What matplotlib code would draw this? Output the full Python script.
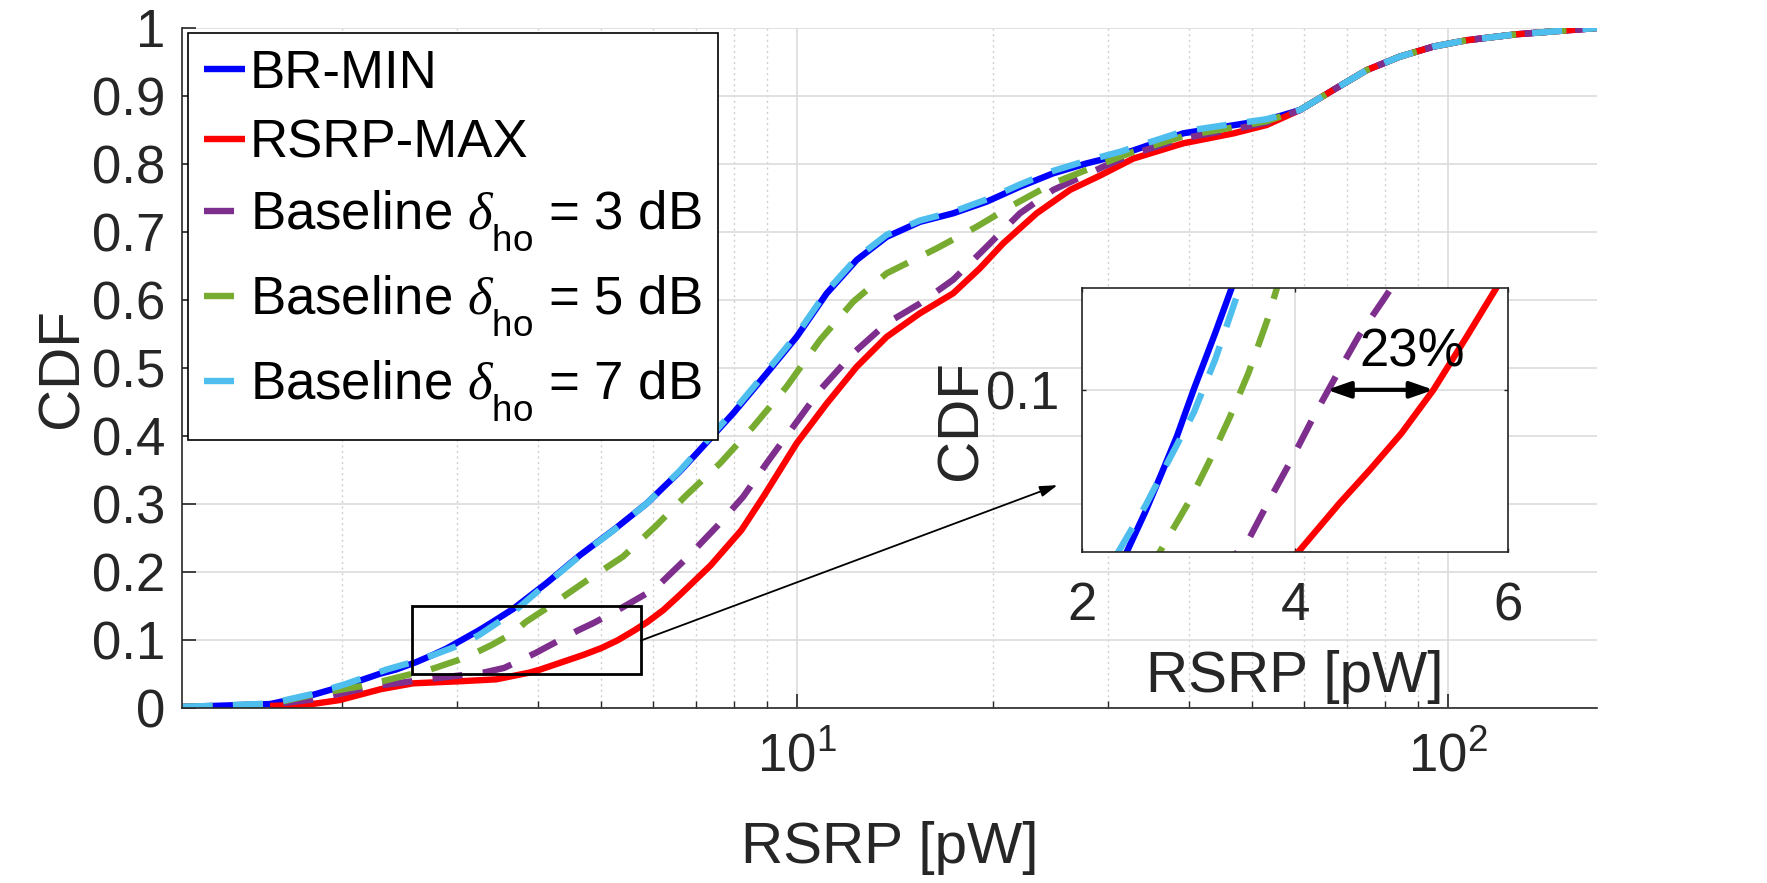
import matplotlib
matplotlib.use("Agg")
import matplotlib.pyplot as plt
import matplotlib.ticker as mticker
from matplotlib.patches import Rectangle

plt.rcParams['font.family'] = ['Liberation Sans', 'DejaVu Sans']
plt.rcParams['mathtext.fontset'] = 'custom'
plt.rcParams['mathtext.rm'] = 'Liberation Sans'
plt.rcParams['mathtext.it'] = 'Liberation Serif:italic'
plt.rcParams['mathtext.bf'] = 'Liberation Sans:bold'
plt.rcParams['mathtext.sf'] = 'Liberation Sans'

# deeper subscripts, as in the TeX-style legend labels of the reference
try:
    import matplotlib._mathtext as _mt
    _mt.FontConstantsBase.sub1 = 0.95
except Exception:
    pass

# ---------------- data ----------------
x_br = [1.137, 1.55, 1.80, 2.03, 2.29, 2.42, 2.60, 2.748, 2.89, 3.045, 3.25, 3.405, 3.66,
        4.12, 4.64, 5.22, 5.87, 6.60, 7.01, 7.98, 8.97, 9.98, 11.1, 12.34, 13.72,
        15.43, 17.36, 19.54, 21.98, 24.73, 27.83, 31.31, 39.17, 46.74, 52.6, 59.2,
        66.6, 74.9, 84.3, 94.9, 106.7, 127.4, 169.2]
cdf_br = [0.002, 0.0063, 0.0195, 0.034, 0.051, 0.057, 0.068, 0.0779, 0.0876, 0.0998,
          0.115, 0.127, 0.146, 0.184, 0.2253, 0.262, 0.301, 0.348, 0.375, 0.434,
          0.492, 0.546, 0.610, 0.659, 0.693, 0.715, 0.7276, 0.7447, 0.7667, 0.7864,
          0.801, 0.8133, 0.8452, 0.857, 0.8648, 0.8795, 0.909, 0.938, 0.958, 0.9727,
          0.982, 0.9908, 1.0]

x_rsrp = [1.55, 1.80, 1.98, 2.29, 2.57, 3.07, 3.45, 3.88, 4.03, 4.42, 4.70, 5.00,
          5.30, 5.61, 5.89, 6.23, 6.60, 7.36, 8.21, 8.87, 9.98, 11.1, 12.34, 13.72,
          15.43, 17.36, 19.08, 20.72, 23.32, 26.24, 29.17, 32.81, 39.17, 46.74, 52.6,
          59.2, 66.6, 74.9, 84.3, 94.9, 106.7, 127.4, 169.2]
cdf_rsrp = [0.0034, 0.0063, 0.012, 0.028, 0.0367, 0.040, 0.0426, 0.0525, 0.057, 0.070,
            0.0787, 0.0885, 0.100, 0.114, 0.127, 0.1445, 0.1665, 0.21, 0.262, 0.311,
            0.3895, 0.448, 0.502, 0.546, 0.5806, 0.610, 0.6468, 0.6835, 0.7276, 0.762,
            0.783, 0.808, 0.8305, 0.845, 0.8574, 0.8795, 0.909, 0.938, 0.958, 0.9727,
            0.982, 0.9908, 1.0]

x_b3 = [1.137, 1.55, 1.80, 2.00, 2.21, 2.70, 3.29, 3.546, 3.76, 3.965, 4.175, 4.382,
        4.601, 4.845, 5.25, 6.05, 6.75, 7.52, 8.26, 8.97, 9.86, 10.84, 12.19, 13.72,
        15.43, 17.36, 19.54, 21.98, 24.73, 29.5, 32.81, 39.17, 46.74, 52.6, 59.2, 66.6,
        74.9, 84.3, 94.9, 106.7, 127.4, 169.2]
cdf_b3 = [0.002, 0.005, 0.013, 0.022, 0.0318, 0.0426, 0.0523, 0.0593, 0.0708, 0.0814,
          0.0929, 0.1035, 0.1144, 0.1245, 0.142, 0.176, 0.22, 0.267, 0.311, 0.360,
          0.414, 0.468, 0.522, 0.566, 0.595, 0.630, 0.6785, 0.7276, 0.762, 0.796,
          0.815, 0.838, 0.851, 0.861, 0.8795, 0.909, 0.938, 0.958, 0.9727, 0.982,
          0.9908, 1.0]

x_b5 = [1.137, 1.55, 1.80, 2.18, 2.62, 2.73, 2.795, 3.014, 3.202, 3.39, 3.562, 3.74,
        3.83, 4.12, 4.72, 5.40, 6.05, 6.76, 7.61, 8.56, 9.63, 10.84, 12.19, 13.72,
        16.37, 18.87, 21.47, 24.73, 29.5, 32.81, 39.17, 46.74, 52.6, 59.2, 66.6, 74.9,
        84.3, 94.9, 106.7, 127.4, 169.2]
cdf_b5 = [0.002, 0.006, 0.020, 0.034, 0.053, 0.057, 0.0602, 0.0708, 0.0814, 0.0929,
          0.1044, 0.1185, 0.127, 0.147, 0.186, 0.223, 0.267, 0.3135, 0.360, 0.414,
          0.4727, 0.5414, 0.5977, 0.6394, 0.676, 0.708, 0.740, 0.772, 0.801, 0.818,
          0.841, 0.854, 0.863, 0.8795, 0.909, 0.938, 0.958, 0.9727, 0.982, 0.9908, 1.0]

x_b7 = [1.137, 1.55, 1.80, 2.03, 2.34, 2.60, 2.80, 3.05, 3.25, 3.48, 3.66, 4.12, 4.64,
        5.22, 5.87, 6.60, 7.01, 7.98, 8.97, 9.98, 11.1, 12.34, 13.72, 15.43, 17.36,
        19.54, 21.98, 24.73, 27.83, 31.31, 39.17, 46.74, 52.6, 59.2, 66.6, 74.9, 84.3,
        94.9, 106.7, 127.4, 169.2]
cdf_b7 = [0.002, 0.007, 0.021, 0.036, 0.057, 0.0695, 0.0805, 0.094, 0.108, 0.127, 0.141,
          0.183, 0.2245, 0.2615, 0.301, 0.349, 0.377, 0.437, 0.495, 0.549, 0.613,
          0.662, 0.696, 0.717, 0.730, 0.748, 0.770, 0.790, 0.805, 0.818, 0.848, 0.859,
          0.866, 0.8795, 0.909, 0.938, 0.958, 0.9727, 0.982, 0.9908, 1.0]

series = [
    (x_br, cdf_br, 'BR-MIN', '#0000FF', 'solid'),
    (x_rsrp, cdf_rsrp, 'RSRP-MAX', '#FF0000', 'solid'),
    (x_b3, cdf_b3, r'Baseline $\delta_{\mathrm{ho}}$ = 3 dB', '#7E2F8E', 'dash'),
    (x_b5, cdf_b5, r'Baseline $\delta_{\mathrm{ho}}$ = 5 dB', '#77AC30', 'dash'),
    (x_b7, cdf_b7, r'Baseline $\delta_{\mathrm{ho}}$ = 7 dB', '#4DBEEE', 'dash'),
]

y_ticks = [0, 0.1, 0.2, 0.3, 0.4, 0.5, 0.6, 0.7, 0.8, 0.9, 1.0]
y_tick_labels = ['0', '0.1', '0.2', '0.3', '0.4', '0.5', '0.6', '0.7', '0.8', '0.9', '1']
x_ticks = [10, 100]
x_tick_labels = [r'$\mathdefault{10^{1}}$', r'$\mathdefault{10^{2}}$']
inset_x_ticks = [2, 4, 6]
inset_x_tick_labels = ['2', '4', '6']
inset_y_ticks = [0.1]
inset_y_tick_labels = ['0.1']

TXT = '#262626'
GRID = '#dcdcdc'
LW = 4.6
DASH = (4.7, 3.2)


def draw_lines(a):
    hs = []
    for xs, ys, lab, col, st in series:
        if st == 'solid':
            h, = a.plot(xs, ys, color=col, lw=LW, solid_capstyle='butt',
                        solid_joinstyle='round', label=lab)
        else:
            h, = a.plot(xs, ys, color=col, lw=LW, linestyle=(0, DASH),
                        dash_capstyle='butt', label=lab)
        hs.append(h)
    return hs


fig = plt.figure(figsize=(17.67, 8.83), dpi=100, facecolor='white')

# ---------------- main axes ----------------
ax = fig.add_axes([0.10328, 0.19785, 0.8005, 0.77044])
ax.set_xscale('log')
handles = draw_lines(ax)
ax.set_xlim(1.137, 169.2)
ax.set_ylim(0, 1)
ax.set_yticks(y_ticks)
ax.set_yticklabels(y_tick_labels)
ax.set_xticks(x_ticks)
ax.set_xticklabels(x_tick_labels)
ax.xaxis.set_minor_locator(mticker.LogLocator(base=10, subs=(2, 3, 4, 5, 6, 7, 8, 9), numticks=20))
ax.xaxis.set_minor_formatter(mticker.NullFormatter())
ax.grid(True, which='major', color=GRID, lw=1.2, ls='-')
ax.grid(True, which='minor', axis='x', color='#cfcfcf', lw=1.0, ls=(0, (1.5, 2.5)))
ax.set_axisbelow(True)
for s in ['top', 'right']:
    ax.spines[s].set_visible(False)
for s in ['left', 'bottom']:
    ax.spines[s].set_color(TXT)
    ax.spines[s].set_linewidth(1.2)
ax.tick_params(axis='both', which='major', direction='in', length=10, width=1.2,
               colors=TXT, labelsize=38, labelcolor=TXT)
ax.tick_params(axis='x', which='minor', direction='in', length=5, width=1.0, colors=TXT)
ax.tick_params(axis='y', which='major', pad=12.5)
ax.tick_params(axis='x', which='major', pad=17)

ax.set_xlabel('RSRP [pW]', fontsize=42, color=TXT)
ax.xaxis.set_label_coords(0.5, -0.2274)
ax.xaxis.label.set_va('baseline')
ax.set_ylabel('CDF', fontsize=42, color=TXT)
ax.yaxis.set_label_coords(-0.0744, 0.5)
ax.yaxis.label.set_va('baseline')

# zoom rectangle and pointer arrow
rect = Rectangle((2.56, 0.05), 5.75 - 2.56, 0.10, fill=False, ec='black', lw=2.0, zorder=5)
ax.add_patch(rect)
ax.annotate('', xy=(25.1, 0.328), xytext=(5.75, 0.0995),
            arrowprops=dict(arrowstyle='-|>,head_length=0.7,head_width=0.22',
                            lw=1.3, color='black', mutation_scale=15,
                            shrinkA=0, shrinkB=0), zorder=5)

leg = ax.legend(handles, [h.get_label() for h in handles], loc='upper left',
                bbox_to_anchor=(187.7 / 1767, 1 - 33 / 883), bbox_transform=fig.transFigure,
                borderaxespad=0, fontsize=38, handlelength=0.78, handletextpad=0.1,
                borderpad=0.3, labelspacing=0.38, frameon=True, fancybox=False,
                edgecolor='black', framealpha=1)
leg.get_frame().set_linewidth(1.2)
for t in leg.get_texts():
    t.set_color('black')

# ---------------- inset axes ----------------
ax_in = fig.add_axes([0.61234, 0.37486, 0.24109, 0.29898])
draw_lines(ax_in)
ax_in.set_xlim(2, 6)
ax_in.set_ylim(0.057, 0.127)
ax_in.set_xticks(inset_x_ticks)
ax_in.set_xticklabels(inset_x_tick_labels)
ax_in.set_yticks(inset_y_ticks)
ax_in.set_yticklabels(inset_y_tick_labels)
ax_in.minorticks_off()
ax_in.grid(True, which='major', color=GRID, lw=1.2, ls='-')
ax_in.set_axisbelow(True)
for s in ax_in.spines.values():
    s.set_color(TXT)
    s.set_linewidth(1.2)
ax_in.tick_params(axis='both', which='major', direction='in', length=3, width=1.0,
                  colors=TXT, labelsize=38, labelcolor=TXT, top=True, right=True)
ax_in.tick_params(axis='x', pad=21)
ax_in.tick_params(axis='y', pad=16)
ax_in.set_xlabel('RSRP [pW]', fontsize=42, color=TXT)
ax_in.xaxis.set_label_coords(0.5, -0.53)
ax_in.xaxis.label.set_va('baseline')
ax_in.set_ylabel('CDF', fontsize=42, color=TXT)
ax_in.yaxis.set_label_coords(-0.2465, 0.5)
ax_in.yaxis.label.set_va('baseline')

ax_in.annotate('', xy=(4.30, 0.1), xytext=(5.30, 0.1),
               arrowprops=dict(arrowstyle='<|-|>,head_length=1.0,head_width=0.35',
                               lw=3, color='black', mutation_scale=14,
                               shrinkA=0, shrinkB=0), zorder=6)
ax_in.text(5.10, 0.110, '23%', fontsize=38, color='black', ha='center', va='center', zorder=6)

fig.savefig('out.png', dpi=100, facecolor='white')
